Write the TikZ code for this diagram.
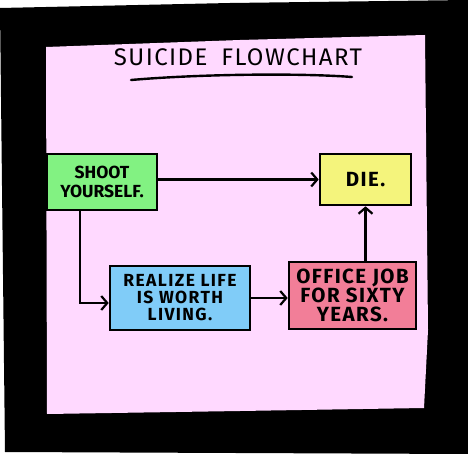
\documentclass[tikz,border=0pt]{standalone}
\usepackage{fontspec}
\setmainfont{Fira Sans}
\usetikzlibrary{arrows.meta,positioning}

\definecolor{panelpink}{HTML}{FFD9FF}
\definecolor{stepgreen}{HTML}{82F282}
\definecolor{stepyellow}{HTML}{F4F47C}
\definecolor{stepblue}{HTML}{80CCF8}
\definecolor{stepred}{HTML}{F27E98}

\tikzset{
  flowbox/.style={draw=black, line width=2.6pt, inner sep=2pt, align=center,
    font=\fontsize{17.5}{17}\selectfont\bfseries\addfontfeatures{LetterSpace=8}},
  bigtext/.style={font=\fontsize{20.5}{19}\selectfont\bfseries\addfontfeatures{LetterSpace=7}},
  flowarrow/.style={line width=2.2pt, -{Straight Barb[length=6pt,width=14pt,line width=2.2pt]}}
}

\begin{document}
\begin{tikzpicture}[x=1pt,y=-1pt]
  \useasboundingbox (0,0) rectangle (468,454);

  % Frame
  \fill[black] (0,8) -- (230,3) -- (468,0) -- (468,454) -- (5,452) -- cycle;
  \fill[panelpink] (46,47) -- (240,40) -- (425,35) -- (428,330) -- (424,408)
    -- (240,411) -- (47,414) -- cycle;

  % Title
  \node (title) at (238,57)
    {\fontsize{24}{26}\selectfont\addfontfeatures{LetterSpace=6}SUICIDE\hspace{14pt}FLOWCHART};
  \draw[line width=2.4pt, line cap=round] (131,80) .. controls (200,74) and (300,73) .. (352,77);

  % Nodes
  \node[flowbox, fill=stepgreen, minimum width=110pt, minimum height=56pt,
    font=\fontsize{17.5}{19}\selectfont\bfseries]
    (shoot) at (102,182) {SHOOT\\YOURSELF.};
  \node[flowbox, bigtext, fill=stepyellow, minimum width=91pt, minimum height=51pt]
    (die) at (365.5,179.5) {DIE.};
  \node[flowbox, fill=stepblue, minimum width=140pt, minimum height=64pt]
    (realize) at (180,298) {REALIZE LIFE\\IS WORTH\\LIVING.};
  \node[flowbox, bigtext, fill=stepred, minimum width=127pt, minimum height=67pt]
    (office) at (352.5,295.5) {OFFICE JOB\\FOR SIXTY\\YEARS.};

  % Connectors
  \draw[flowarrow] (shoot.east |- die.west) -- (die.west);
  \draw[flowarrow] ([xshift=-22pt]shoot.south) |- ([yshift=-5pt]realize.west);
  \draw[flowarrow] (realize.east) -- (office.west |- realize.east);
  \draw[flowarrow] (office.north -| die.south) -- (die.south);

\end{tikzpicture}
\end{document}
